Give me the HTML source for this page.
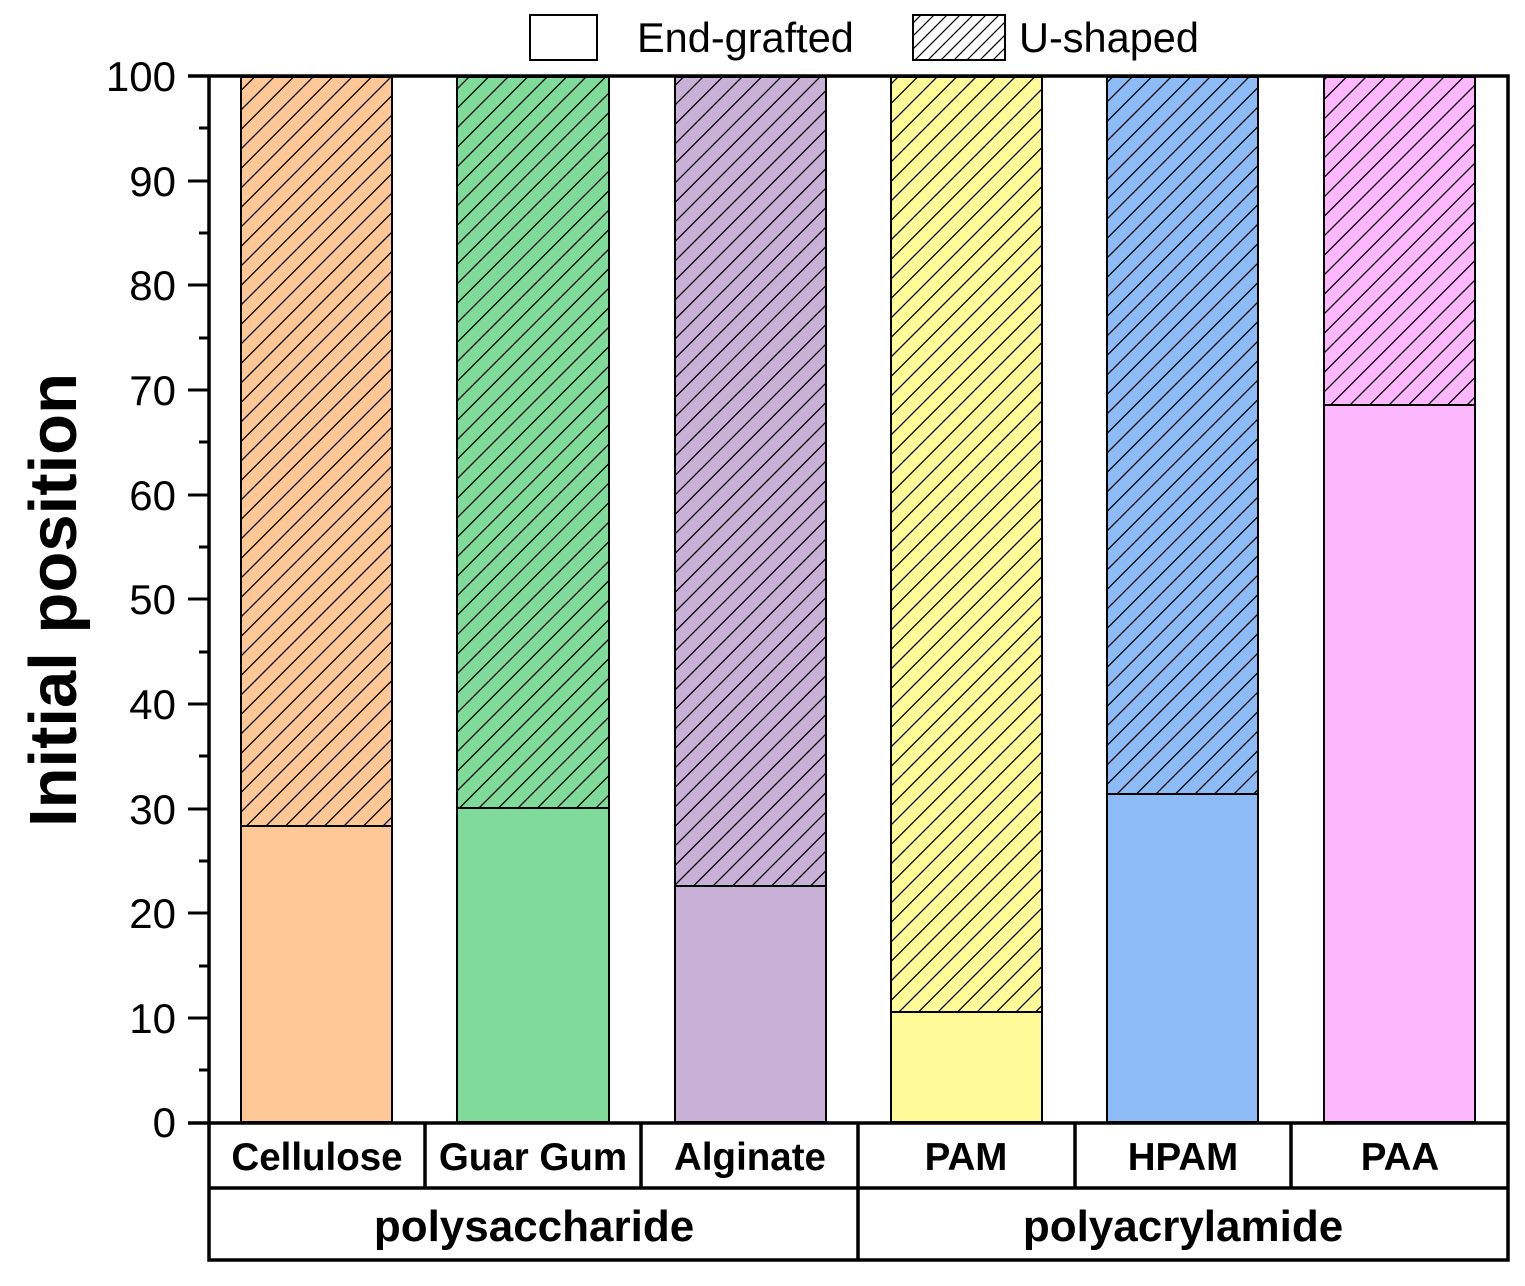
<!DOCTYPE html>
<html><head><meta charset="utf-8"><style>body{margin:0;background:#fff}svg{display:block}</style></head><body>
<svg width="1525" height="1286" viewBox="0 0 1525 1286" xmlns="http://www.w3.org/2000/svg" font-family="Liberation Sans, Arial, sans-serif">
<defs>
<pattern id="h" patternUnits="userSpaceOnUse" width="19.5" height="19.5">
<path d="M-2,21.5 L21.5,-2 M-4,4 L4,-4 M15.5,23.5 L23.5,15.5" stroke="#000" stroke-width="1.3"/>
</pattern>
<pattern id="h2" patternUnits="userSpaceOnUse" width="13" height="13">
<path d="M-2,15 L15,-2 M-3,3 L3,-3 M10,16 L16,10" stroke="#000" stroke-width="1.2"/>
</pattern>
</defs>
<!-- legend -->
<rect x="530" y="15" width="67" height="45" fill="#fff" stroke="#000" stroke-width="2"/>
<text x="637" y="52" font-size="41.5">End-grafted</text>
<rect x="913" y="15" width="92" height="45" fill="url(#h2)" stroke="#000" stroke-width="2"/>
<text x="1019" y="52" font-size="41.5">U-shaped</text>
<!-- bars -->
<g stroke="#000" stroke-width="2">
<rect x="241" y="77" width="151" height="749" fill="#fec896"/>
<rect x="241" y="77" width="151" height="749" fill="url(#h)"/>
<rect x="241" y="826" width="151" height="296" fill="#fec896"/>
<rect x="457" y="77" width="152" height="731" fill="#80da9a"/>
<rect x="457" y="77" width="152" height="731" fill="url(#h)"/>
<rect x="457" y="808" width="152" height="314" fill="#80da9a"/>
<rect x="675" y="77" width="151" height="809" fill="#c9b0d6"/>
<rect x="675" y="77" width="151" height="809" fill="url(#h)"/>
<rect x="675" y="886" width="151" height="236" fill="#c9b0d6"/>
<rect x="891" y="77" width="151" height="935" fill="#fefb98"/>
<rect x="891" y="77" width="151" height="935" fill="url(#h)"/>
<rect x="891" y="1012" width="151" height="110" fill="#fefb98"/>
<rect x="1107" y="77" width="151" height="717" fill="#8dbbf6"/>
<rect x="1107" y="77" width="151" height="717" fill="url(#h)"/>
<rect x="1107" y="794" width="151" height="328" fill="#8dbbf6"/>
<rect x="1324" y="77" width="151" height="328" fill="#fdb7fc"/>
<rect x="1324" y="77" width="151" height="328" fill="url(#h)"/>
<rect x="1324" y="405" width="151" height="717" fill="#fdb7fc"/>
</g>
<!-- axes frame -->
<g stroke="#000" stroke-width="3.5" fill="none">
<path d="M188,76 H1508 V1260 H209 V76"/>
<path d="M188,1123 H1508 M209,1188 H1508 M425,1123 V1188 M641,1123 V1188 M858,1123 V1260 M1075,1123 V1188 M1291,1123 V1188"/>
</g>
<g stroke="#000" stroke-width="3">
<path d="M188,181 H209 M188,285 H209 M188,390 H209 M188,495 H209 M188,599 H209 M188,704 H209 M188,809 H209 M188,913 H209 M188,1018 H209"/>
<path d="M199,128 H209 M199,233 H209 M199,338 H209 M199,442 H209 M199,547 H209 M199,652 H209 M199,756 H209 M199,861 H209 M199,966 H209 M199,1070 H209"/>
</g>
<g font-size="42" text-anchor="end">
<text x="176" y="91">100</text><text x="176" y="196">90</text><text x="176" y="300">80</text>
<text x="176" y="405">70</text><text x="176" y="510">60</text><text x="176" y="614">50</text>
<text x="176" y="719">40</text><text x="176" y="824">30</text><text x="176" y="928">20</text>
<text x="176" y="1033">10</text><text x="176" y="1137">0</text>
</g>
<text transform="translate(76,600) rotate(-90)" font-size="67" font-weight="bold" text-anchor="middle">Initial position</text>
<g font-size="38.5" font-weight="bold" text-anchor="middle">
<text x="317" y="1170">Cellulose</text><text x="533" y="1170">Guar Gum</text><text x="750" y="1170">Alginate</text>
<text x="966" y="1170">PAM</text><text x="1183" y="1170">HPAM</text><text x="1400" y="1170">PAA</text>
</g>
<g font-size="44" font-weight="bold" text-anchor="middle">
<text x="534" y="1241">polysaccharide</text><text x="1183" y="1241">polyacrylamide</text>
</g>
</svg>
</body></html>
